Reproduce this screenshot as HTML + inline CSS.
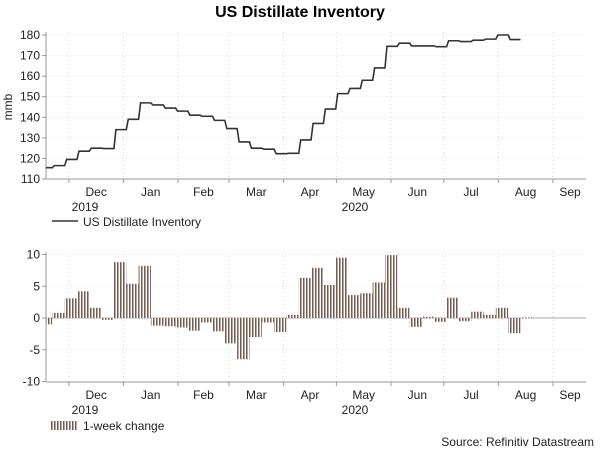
<!DOCTYPE html>
<html><head><meta charset="utf-8"><style>
body{margin:0;background:#fff;}
svg{display:block;font-family:"Liberation Sans",sans-serif;}
</style></head><body>
<svg id="c" width="600" height="449">
<defs>
<pattern id="stripe" width="3" height="4" patternUnits="userSpaceOnUse">
<rect x="0" y="0" width="1" height="4" fill="#7a5a4c"/>
<rect x="1" y="0" width="1" height="4" fill="#b0a8a4"/>
<rect x="2" y="0" width="1" height="4" fill="#ffffff"/>
</pattern>
</defs>
<text x="300" y="17" text-anchor="middle" font-size="16" font-weight="bold" fill="#000">US Distillate Inventory</text>
</svg>
<script>
const levels=[115.5,116.5,119.5,123.5,125,124.8,134,139,147,146,144.5,143,141,140.5,138.5,134.5,128,125,124.5,122.3,122.5,129,137,144,151.5,154,158,164,174.5,176,174.7,174.7,174.3,177.2,176.8,177.5,178,180,177.8];
const changes=[-1.0,0.8,3.1,4.2,1.6,-0.3,8.8,5.4,8.2,-1.2,-1.3,-1.5,-2.0,-0.7,-2.1,-4.0,-6.5,-3.0,-0.7,-2.2,0.5,6.3,7.9,5.2,9.5,3.6,3.9,5.6,9.9,1.6,-1.4,0.2,-0.6,3.2,-0.5,1.0,0.5,1.6,-2.4,0.1];
const months=["Dec","Jan","Feb","Mar","Apr","May","Jun","Jul","Aug","Sep"];
const monthDays=[13,44,75,104,135,165,196,226,257,288,318];
const topTicks=[110,120,130,140,150,160,170,180];
const botTicks=[-10,-5,0,5,10];
const firstWeekDay=-3.4;

const svg=document.getElementById('c');
const NS='http://www.w3.org/2000/svg';
function el(t,a,p){const e=document.createElementNS(NS,t);for(const k in a)e.setAttribute(k,a[k]);(p||svg).appendChild(e);return e;}
const X0=46,X1=586,DPX=1.76;
const xd=d=>X0+d*DPX;
const yTop=v=>179-(v-110)*(144/70);
const yBot=v=>318-v*(127/20);

function axes(yScale,ticks,yBottom,yTopPx,name){
  const g=el('g',{});
  
  
  ticks.forEach(t=>{
    const y=yScale(t);
    if(t!==ticks[0]) el('line',{x1:X0,x2:X1,y1:y,y2:y,stroke:'#cfe0cf','stroke-dasharray':'1,3'},g);
    el('line',{x1:X0-4,x2:X0,y1:y,y2:y,stroke:'#999'},g);
    const tx=el('text',{x:X0-6,y:y+4,'text-anchor':'end','font-size':12,fill:'#222'},g);
    tx.textContent=t;
    
    
  });
  monthDays.slice(0,10).forEach((d,i)=>{
    const x=xd(d);
    el('line',{x1:x,x2:x,y1:yTopPx,y2:yBottom,stroke:'#cfe0cf','stroke-dasharray':'1,3'},g);
    el('line',{x1:x,x2:x,y1:yBottom,y2:yBottom+4,stroke:'#999'},g);
    const mid=Math.min((xd(d)+xd(monthDays[i+1]))/2,570);
    const tx=el('text',{x:mid,y:yBottom+17,'text-anchor':'middle','font-size':12,fill:'#222'},g);
    tx.textContent=months[i];
    
    
  });
  el('line',{x1:X0,x2:X0,y1:yTopPx,y2:yBottom,stroke:'#999'},g);
  el('line',{x1:X0,x2:X1,y1:yBottom,y2:yBottom,stroke:'#999'},g);
  [['2019',85],['2020',355]].forEach(([t,x])=>{
    const tx=el('text',{x:x,y:yBottom+32,'text-anchor':'middle','font-size':12,fill:'#222'},g);
    tx.textContent=t;
    
    
  });
}
axes(yTop,topTicks,179,32,'top');
axes(yBot,botTicks,382,252,'bottom');

const yl=el('text',{x:12,y:107,'text-anchor':'middle','font-size':12,fill:'#222',transform:'rotate(-90 12 107)'});
yl.textContent='mmb';



let pts=[];
levels.forEach((v,i)=>{
  const xs=Math.max(xd(firstWeekDay+7*i),X0), xe=xd(firstWeekDay+7*(i+1));
  pts.push((i===0?xs:xs+2)+','+yTop(v));
  pts.push(xe+','+yTop(v));
});
const line=el('polyline',{points:pts.join(' '),fill:'none',stroke:'#333',"stroke-width":1.6});



el('line',{x1:X0,x2:X1,y1:yBot(0),y2:yBot(0),stroke:'#aaa'});
changes.forEach((v,i)=>{
  const xs=Math.max(xd(firstWeekDay+7*i),X0), xe=xd(firstWeekDay+7*(i+1));
  const y0=yBot(0),y1=yBot(v);
  const r=el('rect',{x:xs,y:Math.min(y0,y1),width:xe-xs,height:Math.max(Math.abs(y1-y0),1),fill:'url(#stripe)'});
  
  
});

let lg=el('g',{});


el('line',{x1:52,x2:78,y1:221,y2:221,stroke:'#333','stroke-width':1.6},lg);
let t=el('text',{x:83,y:226,'font-size':12,fill:'#222'},lg);t.textContent='US Distillate Inventory';
lg=el('g',{});


el('rect',{x:51,y:421,width:26,height:9,fill:'url(#stripe)'},lg);
t=el('text',{x:83,y:430,'font-size':12,fill:'#222'},lg);t.textContent='1-week change';
t=el('text',{x:594,y:446,'text-anchor':'end','font-size':12,fill:'#222'});
t.textContent='Source: Refinitiv Datastream';


</script>
</body></html>
